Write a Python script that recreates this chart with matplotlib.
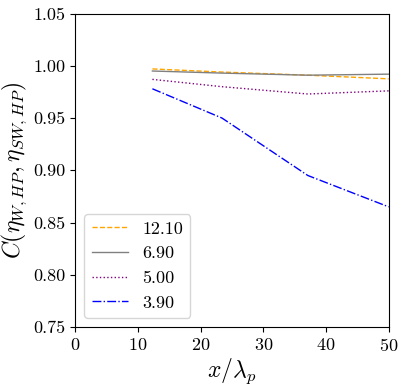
import matplotlib
matplotlib.use('Agg')
import matplotlib.pyplot as plt

plt.rcParams['font.family'] = 'serif'
plt.rcParams['font.serif'] = ['cmr10']
plt.rcParams['mathtext.fontset'] = 'cm'
plt.rcParams['axes.formatter.use_mathtext'] = True

# data
x_pos = [12.3, 23.4, 37.1, 50.0]
labels = ['12.10', '6.90', '5.00', '3.90']
c_1210 = [0.997, 0.994, 0.991, 0.9875]
c_690 = [0.995, 0.993, 0.991, 0.992]
c_500 = [0.987, 0.980, 0.973, 0.976]
c_390 = [0.978, 0.950, 0.895, 0.865]

series = [c_1210, c_690, c_500, c_390]
colors = ['orange', 'gray', 'purple', 'blue']
styles = ['--', '-', ':', '-.']

fig, ax = plt.subplots(figsize=(4.07, 3.87), dpi=100)
for vals, lab, col, ls in zip(series, labels, colors, styles):
    ax.plot(x_pos, vals, color=col, linestyle=ls, linewidth=1, label=lab)

ax.set_xlim(0, 50)
ax.set_ylim(0.75, 1.05)
ax.set_xticks([0, 10, 20, 30, 40, 50])
ax.set_yticks([0.75, 0.80, 0.85, 0.90, 0.95, 1.00, 1.05])
ax.set_yticklabels(['0.75', '0.80', '0.85', '0.90', '0.95', '1.00', '1.05'])
ax.tick_params(labelsize=13)
ax.set_xlabel(r'$x/\lambda_p$', fontsize=17, labelpad=2)
ax.set_ylabel(r'$C(\eta_{W,HP},\eta_{SW,HP})$', fontsize=17, labelpad=3)
ax.legend(loc='lower left', fontsize=13)

fig.subplots_adjust(left=0.185, right=0.955, top=0.965, bottom=0.155)
fig.savefig('out.png', dpi=100)
